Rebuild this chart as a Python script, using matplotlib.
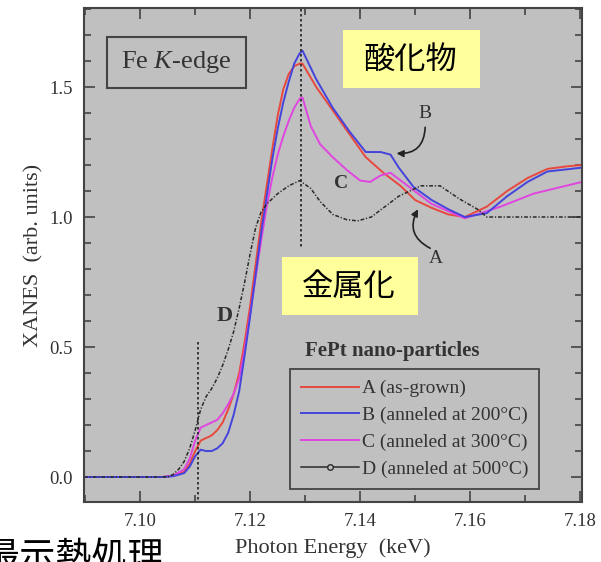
import matplotlib
matplotlib.use('Agg')
import matplotlib.pyplot as plt
from matplotlib.patches import Rectangle
from matplotlib.lines import Line2D
from matplotlib.ticker import MultipleLocator, FormatStrFormatter

plt.rcParams['font.family'] = ['Liberation Serif', 'DejaVu Serif']
plt.rcParams['mathtext.fontset'] = 'custom'
plt.rcParams['mathtext.rm'] = 'Liberation Serif'
plt.rcParams['mathtext.it'] = 'Liberation Serif:italic'

# Fe K-edge XANES spectra, photon energy in keV
A_e = [7.0898, 7.104, 7.106, 7.108, 7.109, 7.110, 7.111, 7.112, 7.113, 7.114, 7.115, 7.116, 7.117,
       7.118, 7.119, 7.120, 7.121, 7.122, 7.123, 7.124, 7.125, 7.126, 7.127, 7.128, 7.129, 7.1295,
       7.132, 7.135, 7.138, 7.141, 7.1442, 7.1473, 7.150, 7.153, 7.156, 7.159, 7.163, 7.1667,
       7.1704, 7.174, 7.1776, 7.1803]
A_v = [0, 0, 0.005, 0.02, 0.05, 0.10, 0.14, 0.15, 0.16, 0.18, 0.21, 0.26, 0.32,
       0.40, 0.52, 0.66, 0.82, 0.98, 1.12, 1.26, 1.39, 1.49, 1.55, 1.58, 1.59, 1.59,
       1.50, 1.41, 1.32, 1.23, 1.17, 1.12, 1.065, 1.035, 1.01, 1.0, 1.04, 1.10,
       1.15, 1.185, 1.195, 1.2]

B_e = [7.0898, 7.104, 7.106, 7.108, 7.109, 7.110, 7.111, 7.112, 7.113, 7.114, 7.115, 7.116, 7.117,
       7.118, 7.119, 7.120, 7.121, 7.122, 7.123, 7.124, 7.125, 7.126, 7.127, 7.128, 7.129, 7.1295,
       7.132, 7.135, 7.138, 7.141, 7.1437, 7.1455, 7.147, 7.1497, 7.153, 7.156, 7.159, 7.163,
       7.1667, 7.1704, 7.174, 7.1803]
B_v = [0, 0, 0.003, 0.015, 0.04, 0.08, 0.105, 0.10, 0.10, 0.11, 0.13, 0.17, 0.24,
       0.33, 0.47, 0.62, 0.78, 0.94, 1.08, 1.22, 1.34, 1.44, 1.52, 1.59, 1.63, 1.64,
       1.53, 1.42, 1.33, 1.25, 1.25, 1.24, 1.19, 1.115, 1.065, 1.03, 1.0, 1.015,
       1.08, 1.135, 1.175, 1.19]

C_e = [7.0898, 7.104, 7.106, 7.108, 7.109, 7.110, 7.111, 7.112, 7.113, 7.114, 7.115, 7.116, 7.117,
       7.118, 7.119, 7.120, 7.121, 7.122, 7.123, 7.124, 7.125, 7.126, 7.127, 7.128, 7.129, 7.1295,
       7.131, 7.1327, 7.135, 7.1376, 7.140, 7.1418, 7.1437, 7.1455, 7.148, 7.153, 7.159, 7.1655,
       7.1715, 7.1803]
C_v = [0, 0, 0.005, 0.03, 0.07, 0.14, 0.19, 0.20, 0.21, 0.22, 0.245, 0.28, 0.32,
       0.38, 0.49, 0.63, 0.77, 0.91, 1.04, 1.15, 1.24, 1.31, 1.37, 1.42, 1.455, 1.46,
       1.35, 1.28, 1.23, 1.18, 1.14, 1.135, 1.16, 1.17, 1.13, 1.05, 0.995, 1.04,
       1.09, 1.135]

D_e = [7.0898, 7.105, 7.106, 7.107, 7.108, 7.109, 7.110, 7.111, 7.112, 7.113, 7.114, 7.115, 7.116,
       7.117, 7.118, 7.119, 7.120, 7.121, 7.122, 7.123, 7.124, 7.125, 7.127, 7.129, 7.131, 7.1327,
       7.135, 7.1375, 7.1395, 7.142, 7.1445, 7.147, 7.151, 7.1545, 7.158, 7.1613, 7.163, 7.165,
       7.1803]
D_v = [0, 0, 0.01, 0.03, 0.06, 0.11, 0.18, 0.26, 0.31, 0.34, 0.38, 0.43, 0.49,
       0.56, 0.65, 0.75, 0.86, 0.96, 1.02, 1.05, 1.07, 1.09, 1.12, 1.14, 1.11, 1.06,
       1.01, 0.99, 0.985, 1.0, 1.04, 1.08, 1.12, 1.12, 1.07, 1.03, 1.0, 1.0,
       1.0]

labels = ['A (as-grown)', 'B (anneled at 200\u00b0C)', 'C (anneled at 300\u00b0C)', 'D (anneled at 500\u00b0C)']
colors = ['#e8483e', '#4444dd', '#e045e0', '#2a2a2a']

bg = '#c0c0c0'
ink = '#333333'

fig = plt.figure(figsize=(6.01, 5.62), dpi=100)
ax = fig.add_axes([0.1398, 0.1068, 0.8286, 0.879])
ax.set_facecolor(bg)

ax.plot(A_e, A_v, color=colors[0], lw=1.4)
ax.plot(C_e, C_v, color=colors[2], lw=1.4)
ax.plot(B_e, B_v, color=colors[1], lw=1.4)
ax.plot(D_e, D_v, color=colors[3], lw=1.1, ls=(0, (2.5, 1.2, 0.8, 1.2)))

# guide lines at the pre-edge and white-line positions
ax.plot([7.1292, 7.1292], [1.8, 0.88], color='#222222', lw=1.2, ls=(0, (1.5, 1.5)))
ax.plot([7.1106, 7.1106], [0.52, -0.1], color='#222222', lw=1.2, ls=(0, (1.5, 1.5)))

ax.set_xlim(7.0898, 7.1803)
ax.set_ylim(-0.096, 1.804)
ax.xaxis.set_major_locator(MultipleLocator(0.02))
ax.xaxis.set_minor_locator(MultipleLocator(0.01))
ax.yaxis.set_major_locator(MultipleLocator(0.5))
ax.yaxis.set_minor_locator(MultipleLocator(0.1))
ax.xaxis.set_major_formatter(FormatStrFormatter('%.2f'))
ax.yaxis.set_major_formatter(FormatStrFormatter('%.1f'))
ax.tick_params(which='both', direction='in', top=True, right=True, color='#444444',
               labelsize=13.5, labelcolor=ink, width=1.2)
ax.tick_params(which='major', length=8, pad=8)
ax.tick_params(which='minor', length=5)
for s in ax.spines.values():
    s.set_color('#444444')
    s.set_linewidth(1.5)

ax.set_xlabel('Photon Energy  (keV)', fontsize=16, color=ink, labelpad=6)
ax.set_ylabel('XANES  (arb. units)', fontsize=16, color=ink, labelpad=4)

# Fe K-edge box
ax.add_patch(Rectangle((0.0462, 0.838), 0.279, 0.1032, transform=ax.transAxes,
                       fill=False, ec='#444444', lw=1.5))
ax.text(0.1857, 0.8907, 'Fe $K$-edge', transform=ax.transAxes, fontsize=19,
        color=ink, ha='center', va='center')

# curve labels
ax.text(7.1518, 1.40, 'B', fontsize=14, color=ink, ha='center', va='center')
ax.text(7.1365, 1.13, 'C', fontsize=14, color=ink, ha='center', va='center', fontweight='bold')
ax.text(7.1538, 0.84, 'A', fontsize=14, color=ink, ha='center', va='center')
ax.text(7.1153, 0.62, 'D', fontsize=16, color=ink, ha='center', va='center', fontweight='bold')
arrow = dict(arrowstyle='-|>', color='#222222', lw=1.2, shrinkA=0, shrinkB=0, mutation_scale=10)
ax.annotate('', xy=(7.1466, 1.245), xytext=(7.1518, 1.345),
            arrowprops=dict(arrow, connectionstyle='arc3,rad=-0.5'))
ax.annotate('', xy=(7.1505, 1.03), xytext=(7.1527, 0.88),
            arrowprops=dict(arrow, connectionstyle='arc3,rad=-0.5'))

# legend
handles = [Line2D([], [], color=colors[0], lw=1.4),
           Line2D([], [], color=colors[1], lw=1.4),
           Line2D([], [], color=colors[2], lw=1.4),
           Line2D([], [], color=colors[3], lw=1.1, marker='o', ms=4,
                  mfc=bg, mec=colors[3], markevery=[1])]
leg = ax.legend(handles, labels, loc='upper left', bbox_to_anchor=(0.4137, 0.269),
                fontsize=14, frameon=True, fancybox=False, handlelength=3.0,
                handletextpad=0.15, labelspacing=0.47, borderpad=0.55, borderaxespad=0)
leg.get_frame().set_facecolor(bg)
leg.get_frame().set_edgecolor('#444444')
leg.get_frame().set_linewidth(1.3)
leg.get_frame().set_alpha(1)
for t in leg.get_texts():
    t.set_color(ink)
ax.text(0.4438, 0.3057, 'FePt nano-particles', transform=ax.transAxes, fontsize=15,
        fontweight='bold', color=ink, ha='left', va='center')

# yellow captions
cjk = ['Noto Sans CJK JP', 'DejaVu Sans']
fig.patches.append(Rectangle((0.5707, 0.8434), 0.228, 0.1032, transform=fig.transFigure,
                             fc='#ffff9c', ec='none', zorder=2))
fig.text(0.6830, 0.893, '酸化物', fontsize=22.5, family=cjk, ha='center', va='center', zorder=3)
fig.patches.append(Rectangle((0.4692, 0.4395), 0.2263, 0.1032, transform=fig.transFigure,
                             fc='#ffff9c', ec='none', zorder=2))
fig.text(0.5807, 0.4893, '金属化', fontsize=22.5, family=cjk, ha='center', va='center', zorder=3)

fig.text(-0.028, -0.0107, '最示熱処理', fontsize=26, family=cjk, ha='left', va='baseline')

fig.savefig('out.png', dpi=100)
